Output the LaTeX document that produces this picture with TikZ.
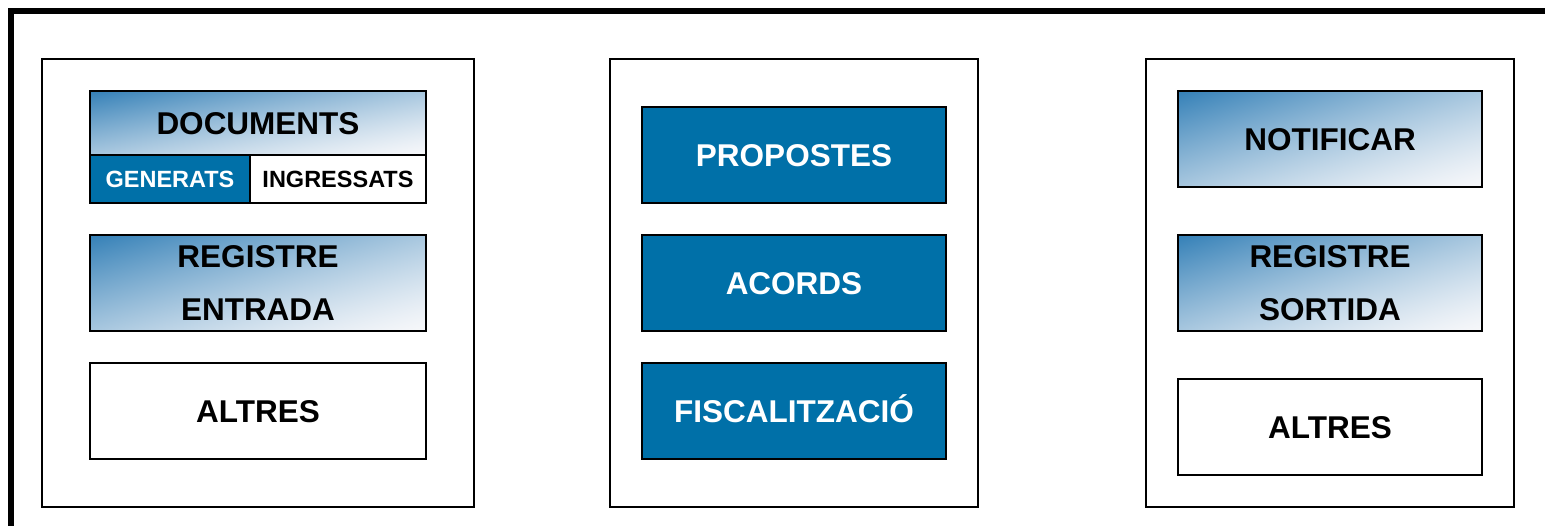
\documentclass[tikz,border=0pt]{standalone}
\usepackage{fontspec}
\setmainfont{Liberation Sans}
\definecolor{fillblue}{RGB}{0,112,168}
\pgfdeclarefunctionalshading{diagblue}{\pgfpoint{0bp}{0bp}}{\pgfpoint{100bp}{100bp}}{}{
  25 sub 50 div exch 25 sub 50 div
  1 exch sub add 2 div
  dup 0 lt {pop 0} if dup 1 gt {pop 1} if
  1.3 exp
  dup dup
  -0.262 mul 0.980 add 3 1 roll
  -0.467 mul 0.969 add 3 1 roll
  -0.761 mul 0.965 add 3 1 roll
}
\begin{document}
\begin{tikzpicture}[x=1pt,y=-1pt,
  frame/.style={draw=black,line width=2pt},
  boxbase/.style={draw=black,line width=2pt,inner sep=0pt,align=center,
    font=\bfseries\fontsize{31.5}{53}\selectfont},
  grad/.style={boxbase,shade,shading=diagblue},
  solid/.style={boxbase,fill=fillblue,text=white},
  plain/.style={boxbase,fill=white},
  oneline/.style={text height=22.5pt,text depth=0pt},
  small/.style={font=\bfseries\fontsize{23.5}{28}\selectfont,text height=17pt,text depth=0pt}
]
\useasboundingbox (0,0) rectangle (1545,525);
% thick outer frame
\coordinate (fa) at (11,528);
\coordinate (fb) at (11,11);
\coordinate (fc) at (1548,11);
\draw[line width=6pt] (fa) -- (fb) -- (fc);

% column frames
\node[frame,minimum width=432pt,minimum height=448pt] (c1) at (258,283) {};
\node[frame,minimum width=368pt,minimum height=448pt] (c2) at (794,283) {};
\node[frame,minimum width=368pt,minimum height=448pt] (c3) at (1330,283) {};

% left column
\node[grad,oneline,minimum width=336pt,minimum height=64pt] (doc) at (258,123) {DOCUMENTS};
\node[solid,small,minimum width=160pt,minimum height=48pt] (gen) at (170,179) {GENERATS};
\node[plain,small,minimum width=176pt,minimum height=48pt] (ing) at (338,179) {INGRESSATS};
\node[grad,minimum width=336pt,minimum height=96pt] (rege) at (258,283) {REGISTRE\\ENTRADA};
\node[plain,oneline,minimum width=336pt,minimum height=96pt] (alt1) at (258,411) {ALTRES};

% middle column
\node[solid,oneline,minimum width=304pt,minimum height=96pt] (prop) at (794,155) {PROPOSTES};
\node[solid,oneline,minimum width=304pt,minimum height=96pt] (acor) at (794,283) {ACORDS};
\node[solid,oneline,minimum width=304pt,minimum height=96pt] (fisc) at (794,411) {FISCALITZACI\smash{Ó}};

% right column
\node[grad,oneline,minimum width=304pt,minimum height=96pt] (noti) at (1330,139) {NOTIFICAR};
\node[grad,minimum width=304pt,minimum height=96pt] (regs) at (1330,283) {REGISTRE\\SORTIDA};
\node[plain,oneline,minimum width=304pt,minimum height=96pt] (alt2) at (1330,427) {ALTRES};
\end{tikzpicture}
\end{document}
